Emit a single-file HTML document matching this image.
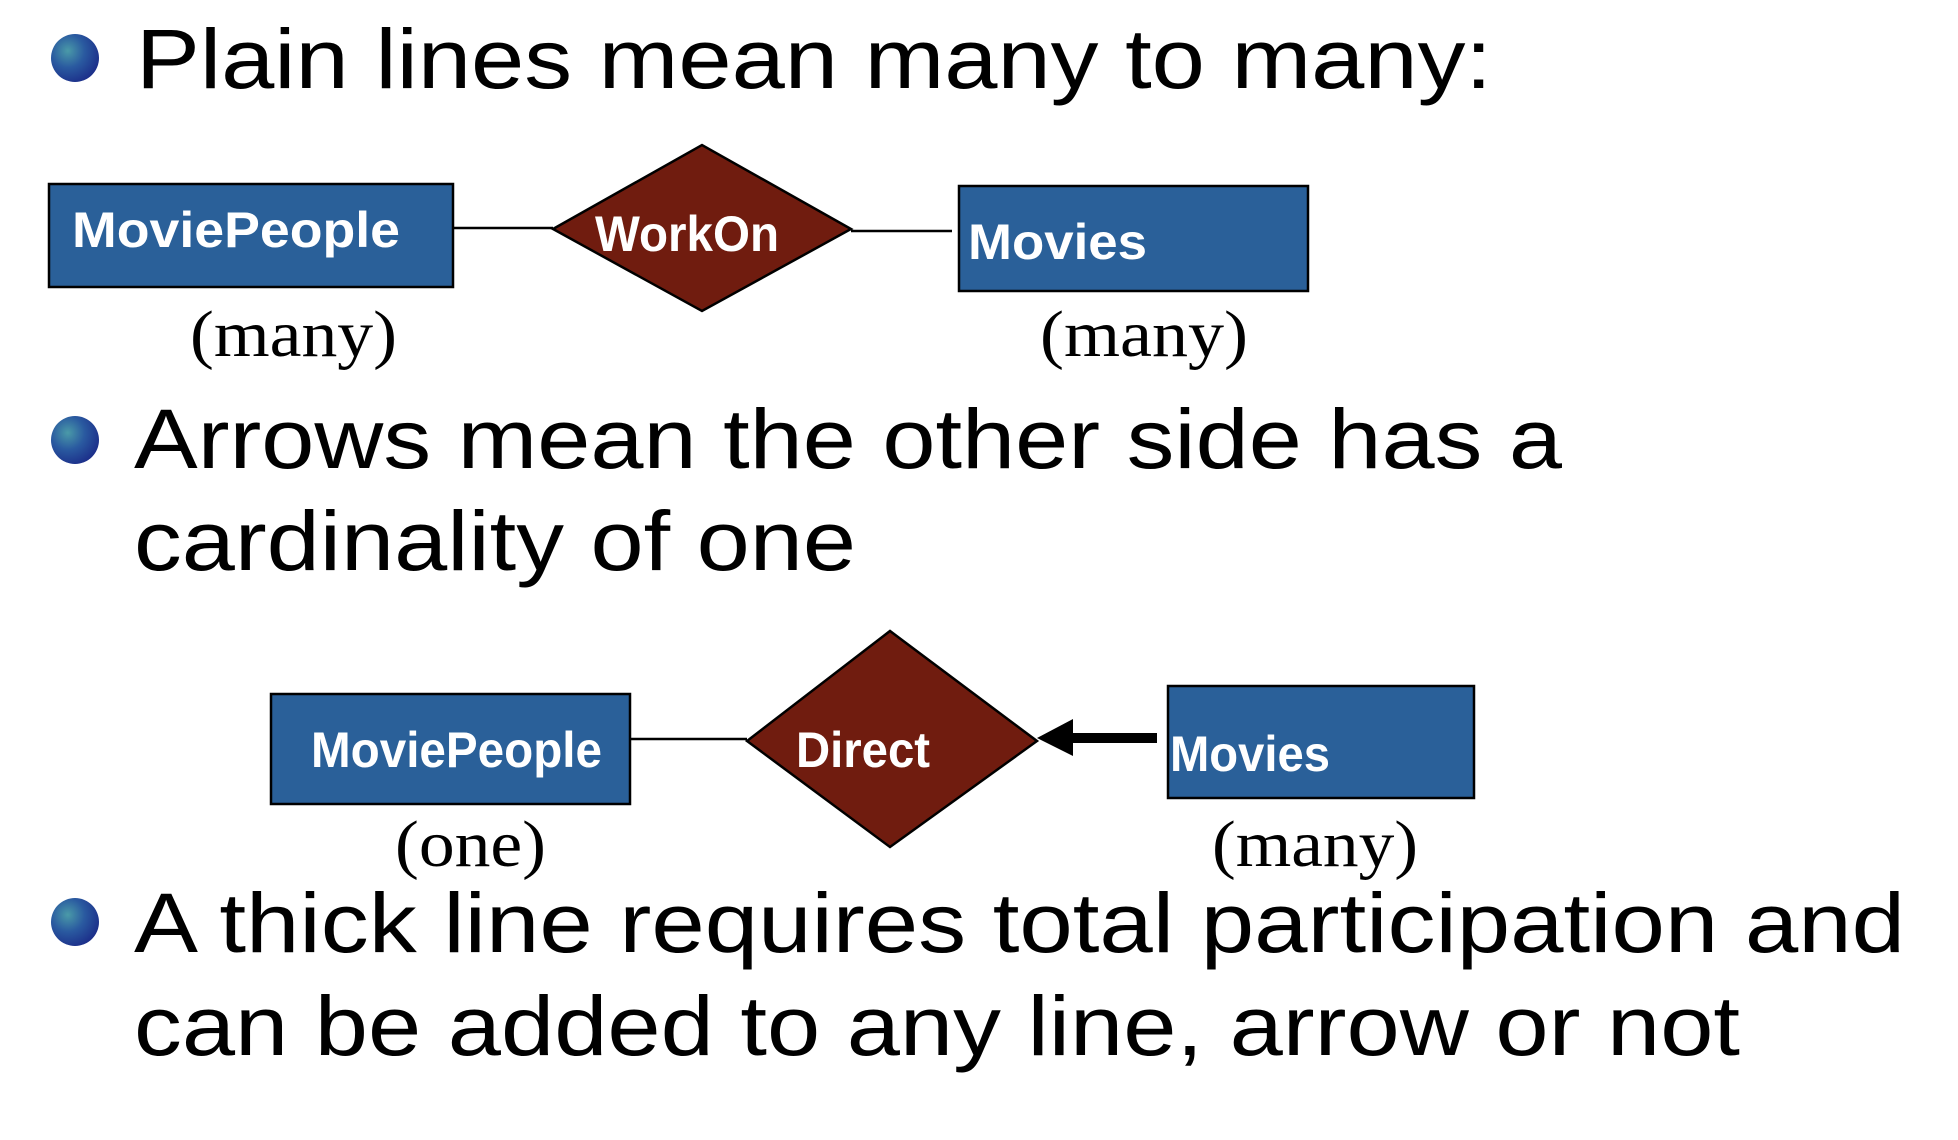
<!DOCTYPE html>
<html><head><meta charset="utf-8"><style>
html,body{margin:0;padding:0;background:#fff;}
svg{display:block;}
</style></head><body>
<svg width="1958" height="1140" viewBox="0 0 1958 1140" xmlns="http://www.w3.org/2000/svg">
<defs>
<radialGradient id="b" cx="0.35" cy="0.35" r="0.7">
<stop offset="0" stop-color="#4a9aa8"/><stop offset="0.5" stop-color="#2a5aa0"/><stop offset="1" stop-color="#1c2f8a"/>
</radialGradient>
</defs>
<g font-family="Liberation Sans, sans-serif" font-size="84" fill="#000">
<circle cx="75" cy="58" r="24" fill="url(#b)"/>
<text x="136" y="88" textLength="1356" lengthAdjust="spacingAndGlyphs">Plain lines mean many to many:</text>
<circle cx="75" cy="440" r="24" fill="url(#b)"/>
<text x="134" y="468" textLength="1428" lengthAdjust="spacingAndGlyphs">Arrows mean the other side has a</text>
<text x="134" y="570" textLength="722" lengthAdjust="spacingAndGlyphs">cardinality of one</text>
<circle cx="75" cy="922" r="24" fill="url(#b)"/>
<text x="134" y="952" textLength="1771" lengthAdjust="spacingAndGlyphs">A thick line requires total participation and</text>
<text x="134" y="1055" textLength="1606" lengthAdjust="spacingAndGlyphs">can be added to any line, arrow or not</text>
</g>
<g stroke="#000" stroke-width="2.5">
<line x1="453" y1="228" x2="553" y2="228"/>
<line x1="851" y1="231" x2="952" y2="231"/>
<rect x="49" y="184" width="404" height="103" fill="#2a6099"/>
<polygon points="553,229 702,145 851,229 702,311" fill="#701c0f"/>
<rect x="959" y="186" width="349" height="105" fill="#2a6099"/>
<line x1="630" y1="739" x2="747" y2="739"/>
<rect x="271" y="694" width="359" height="110" fill="#2a6099"/>
<polygon points="747,741 890,631 1037,741 890,847" fill="#701c0f"/>
<rect x="1168" y="686" width="306" height="112" fill="#2a6099"/>
</g>
<rect x="1070" y="733" width="87" height="10" fill="#000"/>
<polygon points="1037,738 1073,719 1073,756" fill="#000"/>
<g font-family="Liberation Sans, sans-serif" font-weight="bold" font-size="50" fill="#fff">
<text x="72" y="247" textLength="328" lengthAdjust="spacingAndGlyphs">MoviePeople</text>
<text x="595" y="251" textLength="184" lengthAdjust="spacingAndGlyphs">WorkOn</text>
<text x="968" y="259" textLength="179" lengthAdjust="spacingAndGlyphs">Movies</text>
<text x="311" y="767" textLength="291" lengthAdjust="spacingAndGlyphs">MoviePeople</text>
<text x="796" y="767" textLength="134" lengthAdjust="spacingAndGlyphs">Direct</text>
<text x="1170" y="771" textLength="160" lengthAdjust="spacingAndGlyphs">Movies</text>
</g>
<g font-family="Liberation Serif, serif" font-size="66" fill="#000">
<text x="190" y="356" textLength="207" lengthAdjust="spacingAndGlyphs">(many)</text>
<text x="1040" y="356" textLength="208" lengthAdjust="spacingAndGlyphs">(many)</text>
<text x="395" y="866" textLength="151" lengthAdjust="spacingAndGlyphs">(one)</text>
<text x="1212" y="866" textLength="206" lengthAdjust="spacingAndGlyphs">(many)</text>
</g>
</svg>
</body></html>
